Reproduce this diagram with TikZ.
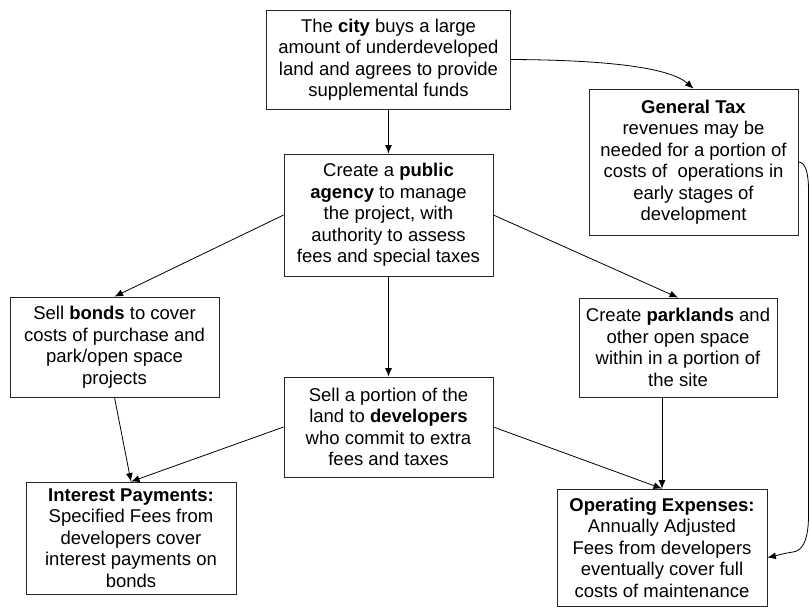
\documentclass[tikz,border=0pt]{standalone}
\usepackage{fontspec}
\setmainfont{Liberation Sans}
\usetikzlibrary{arrows.meta}
\begin{document}
\begin{tikzpicture}[x=1pt,y=-1pt,
  box/.style={draw=black!85, line width=0.8pt, fill=white, align=center, inner sep=0pt,
    font=\fontsize{18.5}{21.5}\selectfont},
  arr/.style={draw=black, line width=0.8pt, -{Latex[length=8.5pt,width=7pt]}}]
\useasboundingbox (0,0) rectangle (810,608);
\node[box, minimum width=244pt, minimum height=99pt] (city) at (388.5,59.5)
  {The \textbf{city} buys a large\\amount of underdeveloped\\land and agrees to provide\\supplemental funds};
\node[box, minimum width=209pt, minimum height=146pt] (tax) at (693.5,162)
  {\textbf{General Tax}\\revenues may be\\needed for a portion of\\costs of\ \ operations in\\early stages of\\development};
\node[box, minimum width=209pt, minimum height=122pt] (agency) at (388.5,215)
  {Create a \textbf{public}\\\textbf{agency} to manage\\the project, with\\authority to assess\\fees and special taxes};
\node[box, minimum width=209pt, minimum height=100pt] (bonds) at (114.5,347)
  {Sell \textbf{bonds} to cover\\costs of purchase and\\park/open space\\projects};
\node[box, minimum width=198pt, minimum height=99pt] (park) at (678,347.5)
  {Create \textbf{parklands} and\\other open space\\within in a portion of\\the site};
\node[box, minimum width=209pt, minimum height=100pt] (dev) at (388.5,427)
  {Sell a portion of the\\land to \textbf{developers}\\who commit to extra\\fees and taxes};
\node[box, minimum width=210pt, minimum height=112pt] (interest) at (131,538)
  {\textbf{Interest Payments:}\\Specified Fees from\\developers cover\\interest payments on\\bonds};
\node[box, minimum width=210pt, minimum height=117pt] (oper) at (662,547.5)
  {\textbf{Operating Expenses:}\\Annually Adjusted\\Fees from developers\\eventually cover full\\costs of maintenance};

\draw[arr] (city.south) -- (agency.north);
\draw[arr] (agency.west) -- (bonds.north);
\draw[arr] (agency.east) -- (park.north);
\draw[arr] (agency.south) -- (dev.north);
\draw[arr] (bonds.south) -- (interest.north);
\draw[arr] (dev.west) -- (interest.north);
\draw[arr] (dev.east) -- (oper.north);
\draw[arr] (oper.north |- park.south) -- (oper.north);
\draw[arr] (city.east) .. controls (610,60) and (670,68) .. (tax.north);
\draw[arr] (tax.east) .. controls (805,162) and (808.5,172) .. (808.5,190)
  -- (808.5,515) .. controls (808.5,545) and (800,551) .. (793,552)
  .. controls (785,553) and (775,556) .. ([yshift=-10pt]oper.east);
\end{tikzpicture}
\end{document}
